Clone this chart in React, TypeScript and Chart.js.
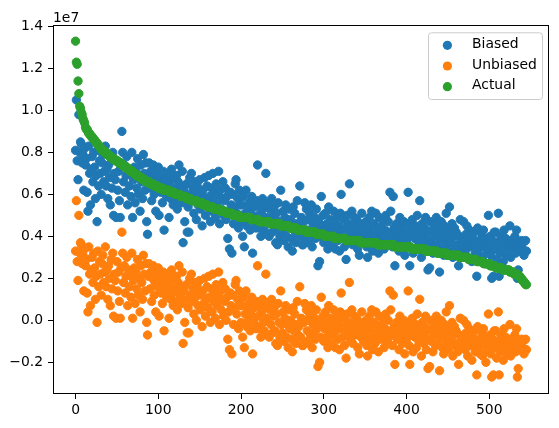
import React, { useEffect, useRef } from "react";
import { Chart, registerables } from "chart.js";

Chart.register(...registerables);

// values in units of 1e5 (x = sample index 0..545)
const biased = [
  81,105,76,67,98,80,85,84,75,79,
  62,82,74,77,61,52,83,70,55,72,
  78,66,80,73,58,69,47,81,64,76,
  70,60,75,79,66,71,83,64,72,58,
  74,68,55,77,63,80,50,70,67,49,
  76,62,71,57,49,73,90,80,66,74,
  61,69,78,55,72,64,70,59,80,49,
  67,73,56,71,63,77,60,68,52,74,
  66,58,79,70,62,75,47,41,69,75,
  63,71,57,68,74,60,66,52,70,64,
  73,50,68,61,65,56,71,43,62,67,
  59,70,64,49,66,58,72,61,55,68,
  63,57,69,53,66,74,60,64,56,71,
  37,62,47,58,65,42,54,42,68,60,
  70,57,63,51,66,59,48,64,55,61,
  67,53,60,45,62,56,68,50,58,64,
  54,69,59,47,63,52,70,57,61,49,
  65,55,60,71,46,62,53,58,66,50,
  57,63,48,59,39,52,34,61,55,32,
  60,46,54,65,67,51,58,44,62,55,
  47,55,40,59,35,51,62,45,54,48,
  56,43,51,59,32,48,54,46,44,57,
  74,50,44,55,40,52,58,47,43,54,
  70,49,41,56,40,53,46,58,42,50,
  54,43,37,51,36,56,47,40,62,46,
  42,52,38,49,55,40,46,35,53,44,
  48,39,33,54,43,51,37,46,57,41,
  45,64,40,49,36,36,47,56,38,53,
  43,48,37,51,41,55,35,46,42,49,
  39,53,44,26,47,28,40,59,45,50,
  37,43,51,39,46,34,54,41,48,36,
  44,40,52,47,34,42,49,38,45,33,
  51,60,43,39,48,35,44,29,50,40,
  46,65,38,42,52,36,45,49,40,43,
  48,34,41,31,46,39,51,44,37,42,
  40,47,35,30,43,49,38,45,52,33,
  41,46,36,51,39,44,32,49,42,38,
  45,40,48,34,43,50,37,42,47,39,
  61,52,41,35,59,44,26,40,46,38,
  43,33,49,39,45,36,41,47,31,42,
  38,46,61,35,26,43,40,48,32,44,
  39,45,34,50,41,37,57,43,30,46,
  40,36,44,49,33,42,24,38,25,47,
  37,43,32,46,40,35,49,41,36,44,
  23,39,47,34,42,31,45,38,51,36,
  41,33,54,43,37,46,30,40,44,35,
  42,36,32,26,40,48,34,39,36,47,
  38,33,41,45,30,36,43,35,40,28,
  39,36,42,32,37,21,44,34,38,31,
  36,41,30,43,35,39,27,37,33,50,
  36,40,31,20,38,21,42,34,42,29,
  37,51,21,32,40,35,38,28,43,33,
  39,31,37,36,37,45,30,38,34,37,
  35,40,32,43,20,24,37,33,36,38,
  34,37,31,33,38,33,
];

const unbiased = [
  33,57,28,19,50,32,37,36,27,31,
  14,34,26,29,13,4,35,22,7,24,
  30,18,32,25,10,21,-1,33,16,28,
  22,12,27,31,18,23,35,16,24,10,
  26,20,7,29,15,32,2,22,19,1,
  28,14,23,9,1,25,42,32,18,26,
  13,21,30,7,24,16,22,11,32,1,
  19,25,8,23,15,29,12,20,4,26,
  18,10,31,22,14,27,-1,-7,21,27,
  15,23,9,20,26,12,18,4,22,16,
  25,2,20,13,17,8,23,-5,14,19,
  11,22,16,1,18,10,24,13,7,20,
  15,9,21,5,18,26,12,16,8,23,
  -11,14,-1,10,17,-6,6,-6,20,12,
  22,9,15,3,18,11,0,16,7,13,
  19,5,12,-3,14,8,20,2,10,16,
  6,21,11,-1,15,4,22,9,13,1,
  17,7,12,23,-2,14,5,10,18,2,
  9,15,0,11,-9,4,-14,13,7,-16,
  12,-2,6,17,19,3,10,-4,14,7,
  -1,7,-8,11,-13,3,14,-3,6,0,
  8,-5,3,11,-16,0,6,-2,-4,9,
  26,2,-4,7,-8,4,10,-1,-5,6,
  22,1,-7,8,-8,5,-2,10,-6,2,
  6,-5,-11,3,-12,8,-1,-8,14,-2,
  -6,4,-10,1,7,-8,-2,-13,5,-4,
  0,-9,-15,6,-5,3,-11,-2,9,-7,
  -3,16,-8,1,-12,-12,-1,8,-10,5,
  -5,0,-11,3,-7,7,-13,-2,-6,1,
  -9,5,-4,-22,-1,-20,-8,11,-3,2,
  -10,-4,4,-8,-1,-13,7,-6,1,-11,
  -3,-7,5,0,-13,-5,2,-9,-2,-14,
  4,13,-4,-8,1,-12,-3,-18,3,-7,
  -1,18,-9,-5,5,-11,-2,2,-7,-4,
  1,-13,-6,-16,-1,-8,4,-3,-10,-5,
  -7,0,-12,-17,-4,2,-9,-2,5,-14,
  -6,-1,-11,4,-8,-3,-15,2,-5,-9,
  -2,-7,1,-13,-4,3,-10,-5,0,-8,
  14,5,-6,-12,12,-3,-21,-7,-1,-9,
  -4,-14,2,-8,-2,-11,-6,0,-16,-5,
  -9,-1,14,-12,-21,-4,-7,1,-15,-3,
  -8,-2,-13,3,-6,-10,10,-4,-17,-1,
  -7,-11,-3,2,-14,-5,-23,-9,-22,0,
  -10,-4,-15,-1,-7,-12,2,-6,-11,-3,
  -24,-8,0,-13,-5,-16,-2,-9,4,-11,
  -6,-14,7,-4,-10,-1,-17,-7,-3,-12,
  -5,-11,-15,-21,-7,1,-13,-8,-11,0,
  -9,-14,-6,-2,-17,-11,-4,-12,-7,-19,
  -8,-11,-5,-15,-10,-26,-3,-13,-9,-16,
  -11,-6,-17,-4,-12,-8,-20,-10,-14,3,
  -11,-7,-16,-27,-9,-26,-5,-13,-5,-18,
  -10,4,-26,-15,-7,-12,-9,-19,-4,-14,
  -8,-16,-10,-11,-10,-2,-17,-9,-13,-10,
  -12,-7,-15,-4,-27,-23,-10,-14,-11,-9,
  -13,-10,-16,-14,-9,-14,
];

const actual = [
  133,123,122,114,108,102,101,99,98,96,
  95,94,92,91,91,90,89,89,88,88,
  87,87,86,86,85,85,84,84,83,83,
  82,82,81,81,81,80,80,80,79,79,
  79,78,78,78,77,77,77,77,76,76,
  76,76,75,75,75,75,74,74,74,73,
  73,73,73,72,72,72,71,71,71,71,
  70,70,70,69,69,69,69,68,68,68,
  68,67,67,67,67,66,66,66,66,66,
  65,65,65,65,65,64,64,64,64,64,
  63,63,63,63,63,63,62,62,62,62,
  62,62,62,62,61,61,61,61,61,61,
  60,60,60,60,60,60,60,59,59,59,
  59,59,59,59,58,58,58,58,58,58,
  57,57,57,57,57,57,57,56,56,56,
  56,56,56,56,55,55,55,55,55,55,
  54,54,54,54,54,54,54,53,53,53,
  53,53,53,53,53,52,52,52,52,52,
  52,52,51,51,51,51,51,51,51,51,
  50,50,50,50,50,50,50,50,49,49,
  49,49,49,49,49,49,49,49,49,49,
  49,49,48,48,48,48,48,48,48,48,
  48,48,47,47,47,47,47,47,47,47,
  47,47,47,47,47,46,46,46,46,46,
  46,46,46,46,46,46,46,46,45,45,
  45,45,45,45,45,45,45,45,45,44,
  44,44,44,44,44,44,44,44,43,43,
  43,43,43,43,43,43,43,43,43,42,
  42,42,42,42,42,42,42,42,42,42,
  42,41,41,41,41,41,41,41,41,41,
  41,40,40,40,40,40,40,40,40,40,
  40,40,40,39,39,39,39,39,39,39,
  39,39,39,39,39,39,39,38,38,38,
  38,38,38,38,38,38,38,38,38,38,
  38,38,38,38,37,37,37,37,37,37,
  37,37,37,37,37,37,37,37,37,37,
  37,37,37,37,37,36,36,36,36,36,
  36,36,36,36,36,36,36,36,36,36,
  36,36,36,36,36,36,35,35,35,35,
  35,35,35,35,35,35,35,35,35,35,
  35,35,35,35,35,35,34,34,34,34,
  34,34,34,34,34,34,34,34,34,34,
  34,34,34,33,33,33,33,33,33,33,
  33,33,33,33,33,33,33,32,32,32,
  32,32,32,32,32,32,32,32,32,31,
  31,31,31,31,31,31,31,31,31,31,
  31,31,31,31,30,30,30,30,30,30,
  30,30,30,30,30,29,29,29,29,29,
  29,29,29,29,29,28,28,28,28,28,
  28,28,28,27,27,27,27,27,27,27,
  27,26,26,26,26,26,26,26,25,25,
  25,25,25,25,25,25,24,24,24,24,
  24,24,24,24,24,23,23,23,23,23,
  22,22,22,22,22,21,21,21,20,20,
  19,19,18,18,17,17,
];

const UNIT = 1e5;
const OFFSET_EXP = 1e7;
const seriesNames = ["Biased", "Unbiased", "Actual"];
const seriesColors = ["#1f77b4", "#ff7f0e", "#2ca02c"];
const xTickValues = [0, 100, 200, 300, 400, 500];
const yTickValues = [-2e6, 0, 2e6, 4e6, 6e6, 8e6, 10e6, 12e6, 14e6];

const FONT_FAMILY = "'DejaVu Sans', sans-serif";
const FONT_SIZE = 13.9;

const toPoints = (arr: number[]) => arr.map((v, i) => ({ x: i, y: v * UNIT }));

const framePlugin = {
  id: "mplFrame",
  afterDraw(chart: any) {
    const { ctx, chartArea: a } = chart;
    ctx.save();
    ctx.strokeStyle = "#000";
    ctx.lineWidth = 1;
    ctx.strokeRect(Math.round(a.left) + 0.5, Math.round(a.top) + 0.5, Math.round(a.right - a.left) - 1, Math.round(a.bottom - a.top) - 1);
    ctx.fillStyle = "#000";
    ctx.font = `${FONT_SIZE}px ${FONT_FAMILY}`;
    ctx.textAlign = "left";
    ctx.textBaseline = "alphabetic";
    ctx.fillText("1e7", a.left, a.top - 3.5);
    const w = 114;
    const h = 66.7;
    const x0 = a.right - 7 - w;
    const y0 = a.top + 7.3;
    ctx.beginPath();
    if ((ctx as any).roundRect) (ctx as any).roundRect(x0 + 0.5, y0 + 0.5, w, h, 3);
    else ctx.rect(x0 + 0.5, y0 + 0.5, w, h);
    ctx.fillStyle = "rgba(255,255,255,0.8)";
    ctx.fill();
    ctx.strokeStyle = "#cccccc";
    ctx.lineWidth = 1;
    ctx.stroke();
    seriesNames.forEach((name, i) => {
      const cy = y0 + 13 + i * 20.7;
      ctx.beginPath();
      ctx.arc(x0 + 19.4, cy, 4.6, 0, Math.PI * 2);
      ctx.fillStyle = seriesColors[i];
      ctx.fill();
      ctx.fillStyle = "#000";
      ctx.textBaseline = "middle";
      ctx.fillText(name, x0 + 44, cy - 1);
    });
    ctx.restore();
  },
};

export default function App() {
  const canvasRef = useRef<HTMLCanvasElement | null>(null);

  useEffect(() => {
    if (!canvasRef.current) return;
    const series = [biased, unbiased, actual];
    const orders = [3, 2, 1];
    const chart = new Chart(canvasRef.current, {
      type: "scatter",
      data: {
        datasets: series.map((arr, i) => ({
          label: seriesNames[i],
          data: toPoints(arr),
          backgroundColor: seriesColors[i],
          borderColor: seriesColors[i],
          borderWidth: 1,
          pointRadius: 4.17,
          pointHoverRadius: 4.17,
          order: orders[i],
        })),
      },
      options: {
        responsive: false,
        animation: false,
        events: [],
        layout: { padding: { left: 0, right: 10, top: 25, bottom: 0 } },
        plugins: {
          legend: { display: false },
          tooltip: { enabled: false },
        },
        scales: {
          x: {
            type: "linear",
            min: -27.25,
            max: 572.25,
            afterBuildTicks: (scale: any) => {
              scale.ticks = xTickValues.map((value) => ({ value }));
            },
            afterFit: (scale: any) => {
              scale.height = 34;
            },
            ticks: {
              autoSkip: false,
              maxRotation: 0,
              padding: 3,
              color: "#000",
              font: { family: FONT_FAMILY, size: FONT_SIZE },
              callback: (v: any) => String(v),
            },
            grid: {
              drawOnChartArea: false,
              drawTicks: true,
              tickLength: 5,
              tickColor: "#000",
              tickWidth: 1,
            },
            border: { display: false },
          },
          y: {
            type: "linear",
            min: -3.51e6,
            max: 14.07e6,
            afterBuildTicks: (scale: any) => {
              scale.ticks = yTickValues.map((value) => ({ value }));
            },
            afterFit: (scale: any) => {
              scale.width = 53;
            },
            ticks: {
              autoSkip: false,
              padding: 5,
              color: "#000",
              font: { family: FONT_FAMILY, size: FONT_SIZE },
              callback: (v: any) => (Number(v) / OFFSET_EXP).toFixed(1).replace("-", "\u2212"),
            },
            grid: {
              drawOnChartArea: false,
              drawTicks: true,
              tickLength: 5,
              tickColor: "#000",
              tickWidth: 1,
            },
            border: { display: false },
          },
        },
      },
      plugins: [framePlugin],
    });
    return () => chart.destroy();
  }, []);

  return (
    <div style={{ position: "fixed", left: 0, top: 0, width: 559, height: 428, background: "#fff" }}>
      <canvas ref={canvasRef} width={559} height={428} />
    </div>
  );
}
